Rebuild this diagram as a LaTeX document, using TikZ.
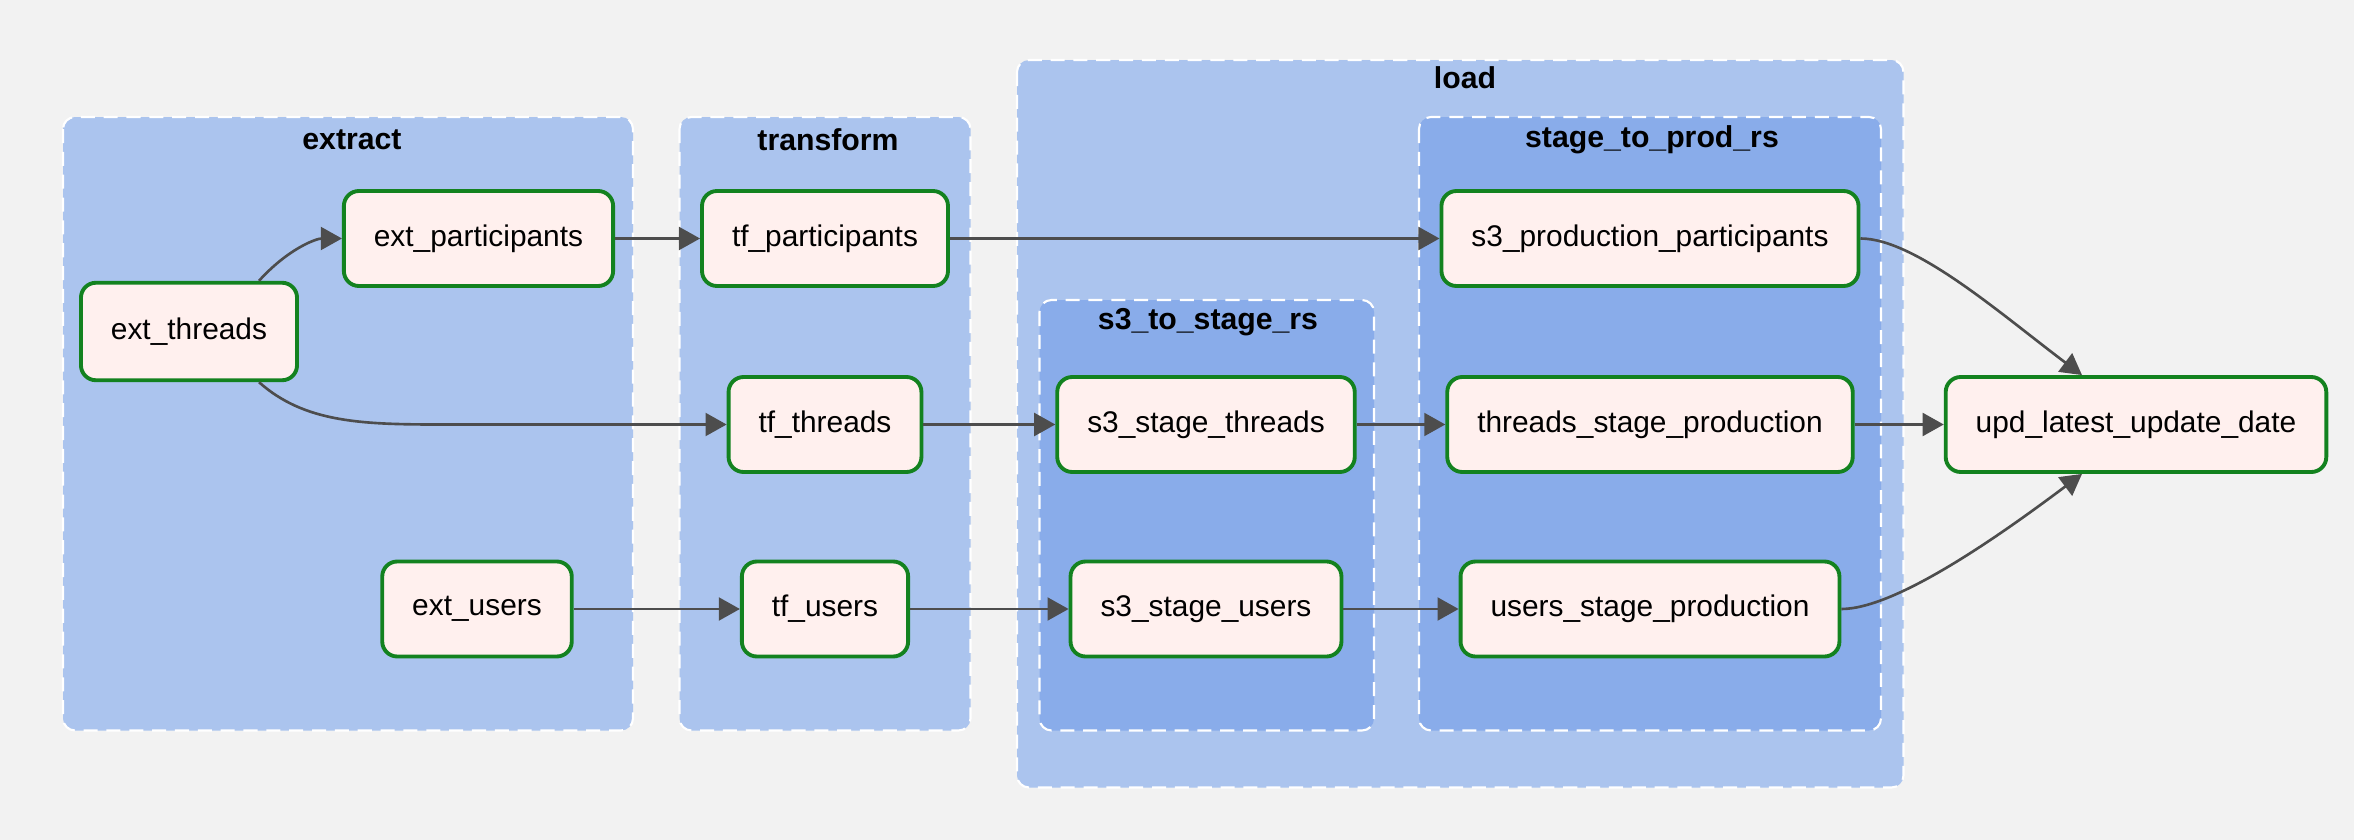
\documentclass[tikz,border=0pt]{standalone}
\usepackage{fontspec}
\setmainfont{Liberation Sans}
\usepackage{xcolor}
\usetikzlibrary{arrows.meta}
\definecolor{bggray}{HTML}{F2F2F2}
\definecolor{grplight}{HTML}{ABC4EE}
\definecolor{grpdark}{HTML}{89ACEA}
\definecolor{taskfill}{HTML}{FFF0EE}
\definecolor{taskline}{HTML}{13821F}
\definecolor{edgegray}{HTML}{4D4D4D}

\begin{document}
\begin{tikzpicture}
	\tikzstyle{group} = [draw=white, dash pattern=on 4pt off 2.5pt, line width=0.6pt, rounded corners=0.12cm]
	\tikzstyle{title} = [font=\fontsize{8.6}{10}\selectfont\bfseries]
	\tikzstyle{task} = [draw=taskline, fill=taskfill, line width=1.1pt, rounded corners=0.15cm, minimum height=0.95cm, inner xsep=0.3cm, font=\fontsize{8.5}{10}\selectfont]
	\tikzstyle{edge} = [draw=edgegray, line width=0.75pt, -{Triangle[length=6pt,width=6.5pt]}]
	\fill[bggray] (0,0) rectangle (23.54,-8.4);
	\useasboundingbox (0,0) rectangle (23.54,-8.4);
	% groups
	\filldraw[group, fill=grplight] (0.63,-1.17) rectangle (6.33,-7.305);
	\filldraw[group, fill=grplight] (6.795,-1.17) rectangle (9.705,-7.305);
	\filldraw[group, fill=grplight] (10.17,-0.6) rectangle (19.035,-7.875);
	\filldraw[group, fill=grpdark] (10.395,-3.0) rectangle (13.74,-7.305);
	\filldraw[group, fill=grpdark] (14.19,-1.17) rectangle (18.81,-7.305);
		\node[title] (extract)   at (3.52,-1.395)  {extract};
		\node[title] (transform) at (8.28,-1.395)  {transform};
		\node[title] (load)      at (14.65,-0.78)  {load};
		\node[title] (tostage)   at (12.08,-3.225) {s3\_to\_stage\_rs};
		\node[title] (toprod)    at (16.52,-1.395) {stage\_to\_prod\_rs};
	% tasks
		\node[task, minimum height=0.975cm] (ext_threads) at (1.89,-3.315) {ext\_threads};
		\node[task] (ext_participants) at (4.785,-2.385) {ext\_participants};
		\node[task] (ext_users)        at (4.77,-6.09)   {ext\_users};
		\node[task] (tf_participants)  at (8.25,-2.385)  {tf\_participants};
		\node[task] (tf_threads)       at (8.25,-4.245)  {tf\_threads};
		\node[task] (tf_users)         at (8.25,-6.09)   {tf\_users};
		\node[task] (s3_stage_threads) at (12.06,-4.245) {s3\_stage\_threads};
		\node[task] (s3_stage_users)   at (12.06,-6.09)  {s3\_stage\_users};
		\node[task] (s3_production_participants) at (16.5,-2.385) {s3\_production\_participants};
		\node[task] (threads_stage_production)   at (16.5,-4.245) {threads\_stage\_production};
		\node[task] (users_stage_production)     at (16.5,-6.09)  {users\_stage\_production};
		\node[task] (upd_latest_update_date)     at (21.36,-4.245) {upd\_latest\_update\_date};
	% edges
	\draw[edge] ([xshift=0.7cm]ext_threads.north) .. controls +(0.3,0.33) and +(-0.25,0) .. (ext_participants.west);
	\draw[edge] ([xshift=0.7cm]ext_threads.south) .. controls +(0.45,-0.4) and +(-0.8,0) .. (4.4,0 |- tf_threads.west) -- (tf_threads.west);
	\draw[edge] (ext_participants) -- (tf_participants);
	\draw[edge] (ext_users) -- (tf_users);
	\draw[edge] (tf_participants) -- (s3_production_participants);
	\draw[edge] (tf_threads) -- (s3_stage_threads);
	\draw[edge] (tf_users) -- (s3_stage_users);
	\draw[edge] (s3_stage_threads) -- (threads_stage_production);
	\draw[edge] (s3_stage_users) -- (users_stage_production);
	\draw[edge] (threads_stage_production) -- (upd_latest_update_date);
	\draw[edge] (s3_production_participants.east) .. controls +(0.55,0) and +(-0.8,0.6) .. ([xshift=-0.54cm]upd_latest_update_date.north);
	\draw[edge] (users_stage_production.east) .. controls +(0.55,0) and +(-0.8,-0.6) .. ([xshift=-0.54cm]upd_latest_update_date.south);
\end{tikzpicture}
\end{document}
